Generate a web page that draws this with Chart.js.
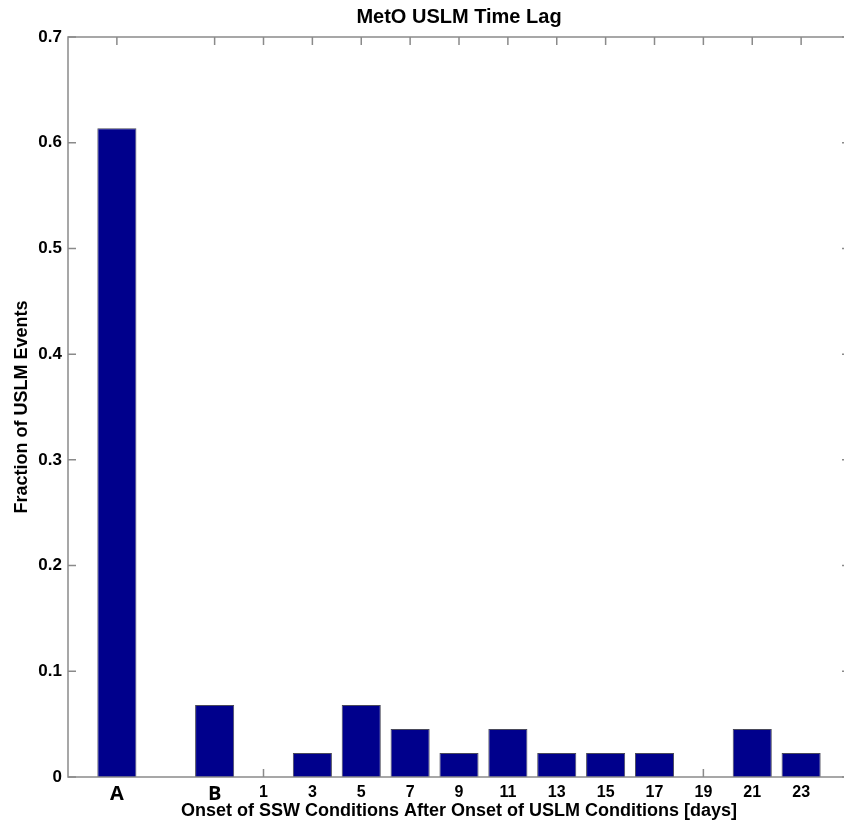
<!DOCTYPE html>
<html>
<head>
<meta charset="utf-8">
<title>MetO USLM Time Lag</title>
<script src="https://cdn.jsdelivr.net/npm/chart.js@4.4.0/dist/chart.umd.min.js"></script>
<style>
  html, body { margin: 0; padding: 0; background: #fff; overflow: hidden; }
  #myChart { display: block; }
</style>
</head>
<body>
<canvas id="myChart" width="856" height="823"></canvas>
<script>

var titolo = 'MetO USLM Time Lag';
var xTitle = 'Onset of SSW Conditions After Onset of USLM Conditions [days]';
var yTitle = 'Fraction of USLM Events';

// A, gap, B, then lag days
var categories = ['A', '', 'B', '1', '3', '5', '7', '9', '11', '13', '15', '17', '19', '21', '23'];
var fraction = [0.6136, null, 0.0682, 0, 0.0227, 0.0682, 0.0455, 0.0227, 0.0455, 0.0227, 0.0227, 0.0227, 0, 0.0455, 0.0227];
var yTicks = [0, 0.1, 0.2, 0.3, 0.4, 0.5, 0.6, 0.7];

// one empty slot on each side so the box starts a full step before A
var labels = [''].concat(categories, ['']);
var values = [null].concat(fraction, [null]);

var axisColor = '#8a8a8a';
var fontArial = "'Liberation Sans', Arial, sans-serif";

// inward tick marks + box round the plot, matlab style
var boxTicks = {
  id: 'boxTicks',
  beforeDatasetsDraw: function(chart) {
    var ctx = chart.ctx;
    var a = chart.chartArea;
    var x = chart.scales.x;
    var y = chart.scales.y;
    var len = 8;
    ctx.save();
    ctx.strokeStyle = axisColor;
    ctx.lineWidth = 1.5;
    ctx.beginPath();
    y.ticks.forEach(function(t) {
      var py = y.getPixelForValue(t.value);
      ctx.moveTo(a.left, py); ctx.lineTo(a.left + len, py);
      ctx.moveTo(a.right, py); ctx.lineTo(a.right - len, py);
    });
    labels.forEach(function(l, i) {
      if (l === '') return;
      var px = x.getPixelForValue(i);
      ctx.moveTo(px, a.top); ctx.lineTo(px, a.top + len);
      ctx.moveTo(px, a.bottom); ctx.lineTo(px, a.bottom - len);
    });
    ctx.stroke();
    ctx.restore();
  },
  afterDatasetsDraw: function(chart) {
    var ctx = chart.ctx;
    var a = chart.chartArea;
    ctx.save();
    ctx.strokeStyle = axisColor;
    ctx.lineWidth = 1.5;
    ctx.strokeRect(a.left, a.top, a.right - a.left, a.bottom - a.top);
    ctx.restore();
  },
  afterDraw: function(chart) {
    var ctx = chart.ctx;
    var a = chart.chartArea;
    ctx.save();
    ctx.fillStyle = '#000';
    ctx.font = 'bold 20px ' + fontArial;
    ctx.textAlign = 'center';
    ctx.textBaseline = 'middle';
    ctx.fillText(titolo, (a.left + a.right) / 2, 17);
    ctx.restore();
  }
};

var ctx = document.getElementById('myChart');
var chart = new Chart(ctx, {
  type: 'bar',
  data: {
    labels: labels,
    datasets: [{
      label: 'fraction',
      data: values,
      backgroundColor: '#00008c',
      borderColor: '#4a4a5a',
      borderWidth: 1,
      barPercentage: 0.8,
      categoryPercentage: 1.0
    }]
  },
  options: {
    responsive: false,
    animation: false,
    layout: { padding: { top: 37, right: 2, left: 0, bottom: 0 } },
    plugins: {
      legend: { display: false },
      tooltip: { enabled: false }
    },
    scales: {
      x: {
        offset: false,
        grid: { display: false, drawTicks: false },
        border: { display: false },
        ticks: {
          autoSkip: false,
          maxRotation: 0,
          padding: 6,
          color: '#000',
          font: function(c) {
            var l = c.tick && c.tick.label;
            if (l === 'A' || l === 'B') {
              return { family: "'Open Sans', sans-serif", size: 20, weight: 'bold', lineHeight: 1.1 };
            }
            return { family: fontArial, size: 16, weight: 'bold' };
          }
        },
        title: {
          display: true,
          text: xTitle,
          color: '#000',
          font: { family: fontArial, size: 18, weight: 'bold' },
          padding: { top: 0, bottom: 1 }
        },
        afterFit: function(scale) { scale.height = 46; }
      },
      y: {
        min: 0,
        max: 0.7,
        grid: { display: false, drawTicks: false },
        border: { display: false },
        afterBuildTicks: function(scale) {
          scale.ticks = yTicks.map(function(v) { return { value: v }; });
        },
        ticks: {
          padding: 6,
          color: '#000',
          font: { family: fontArial, size: 17, weight: 'bold' },
          callback: function(v) { return v === 0 ? '0' : v.toFixed(1); }
        },
        title: {
          display: true,
          text: yTitle,
          color: '#000',
          font: { family: fontArial, size: 18, weight: 'bold' },
          padding: { top: 11, bottom: 0 }
        },
        afterFit: function(scale) { scale.width = 68; }
      }
    }
  },
  plugins: [boxTicks]
});

</script>
</body>
</html>
